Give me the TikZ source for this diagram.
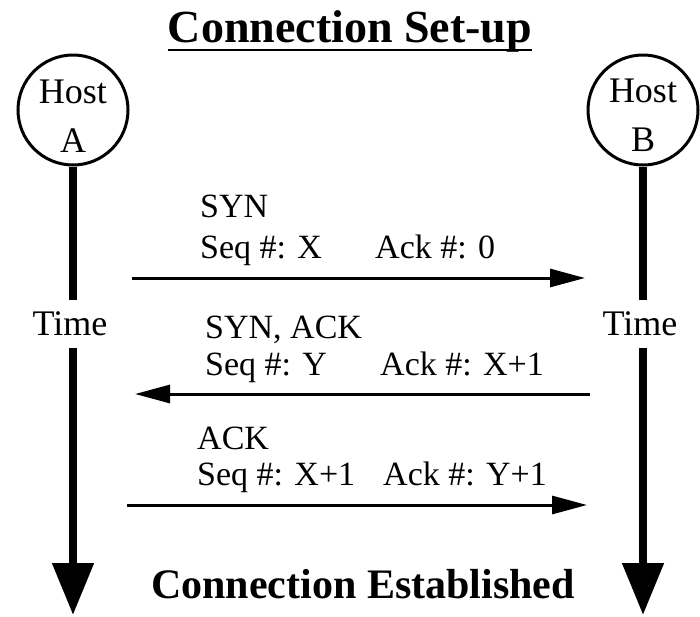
\documentclass[tikz,border=0pt]{standalone}
\usepackage{fontspec}
\setmainfont{Liberation Serif}
\usetikzlibrary{arrows.meta}
\tikzset{
  host/.style={circle, draw, line width=3pt, minimum size=110pt, inner sep=0pt,
    align=center, font=\fontsize{36}{49}\selectfont},
  timeline/.style={line width=8pt, -{Triangle[length=52pt,width=40pt]}},
  msg/.style={line width=3pt, -{Triangle[length=35pt,width=18pt]}},
  timelbl/.style={fill=white, inner xsep=2pt, inner ysep=10pt, text height=25pt, text depth=3pt,
    font=\fontsize{36}{40}\selectfont},
  txt/.style={anchor=base west, inner sep=0pt, font=\fontsize{34}{38}\selectfont},
  big/.style={anchor=base, inner sep=0pt, font=\bfseries\fontsize{46}{50}\selectfont},
}
\begin{document}
\begin{tikzpicture}[x=1pt,y=-1pt]
\useasboundingbox (0,0) rectangle (700,616);
% title
\node[big] (title) at (350,42) {Connection Set-up};
\draw[line width=2.5pt] ([yshift=-8pt]title.base west) -- ([yshift=-8pt]title.base east);
% hosts
\node[host] (hostA) at (73,110) {\rule{0pt}{35pt}Host\\A};
\node[host] (hostB) at (643,110) {\rule{0pt}{35pt}Host\\B};
\coordinate (endA) at (73,615);
\coordinate (endB) at (643,615);
\draw[timeline] (hostA.south) -- (endA);
\draw[timeline] (hostB.south) -- (endB);
\node[timelbl, anchor=base] (timeA) at (70,335) {Time};
\node[timelbl, anchor=base] (timeB) at (640,335) {Time};
% message 1
\coordinate (m1s) at (132,278);
\coordinate (m1e) at (585,278);
\draw[msg] (m1s) -- (m1e);
\node[txt] (m1a) at (200,217) {SYN};
\node[txt] (m1b) at (200,258) {Seq \#: X};
\node[txt] (m1c) at (375,258) {Ack \#: 0};
% message 2
\coordinate (m2s) at (590,394);
\coordinate (m2e) at (135,394);
\draw[msg] (m2s) -- (m2e);
\node[txt] (m2a) at (205,338) {SYN, ACK};
\node[txt] (m2b) at (205,375) {Seq \#: Y};
\node[txt] (m2c) at (380,375) {Ack \#: X+1};
% message 3
\coordinate (m3s) at (127,505);
\coordinate (m3e) at (587,505);
\draw[msg] (m3s) -- (m3e);
\node[txt] (m3a) at (197,449) {ACK};
\node[txt] (m3b) at (197,485) {Seq \#: X+1};
\node[txt] (m3c) at (383,485) {Ack \#: Y+1};
% bottom
\node[big, font=\bfseries\fontsize{42}{46}\selectfont] (done) at (363,598) {Connection Established};
\end{tikzpicture}
\end{document}
